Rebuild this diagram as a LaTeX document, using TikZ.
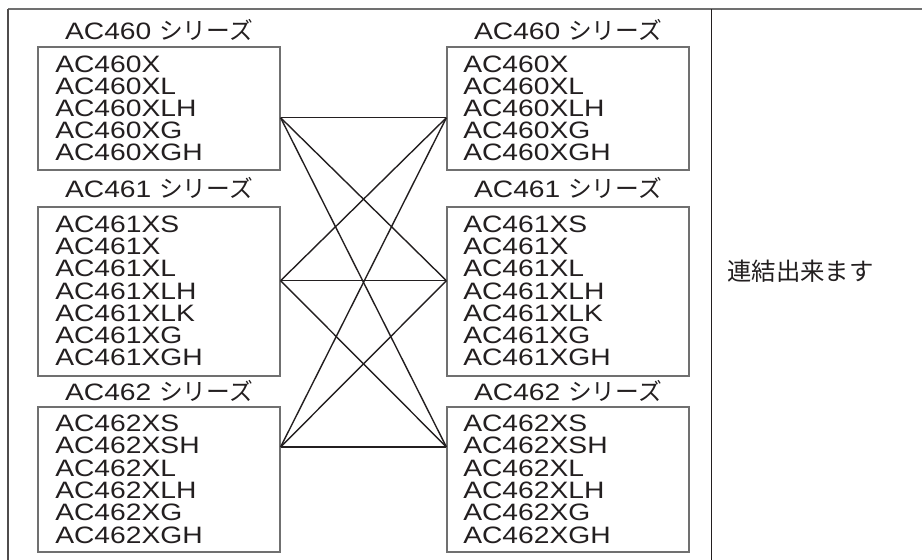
\documentclass[tikz,border=0pt]{standalone}
\usepackage{fontspec}
\setmainfont{Liberation Sans}[FakeStretch=1.19]
\newfontfamily\jpfont{Noto Sans CJK JP}
\usetikzlibrary{fit}
\definecolor{ink}{HTML}{231F20}
\definecolor{frame}{HTML}{707070}

\begin{document}
\begin{tikzpicture}[x=0.75pt,y=-0.75pt,
  box/.style={draw=frame,line width=0.9pt,inner sep=0pt},
  item/.style={anchor=base west,inner sep=0pt,text=ink,font=\fontsize{17.8}{20}\selectfont},
  series/.style={anchor=base,inner sep=0pt,text=ink,font=\fontsize{17.8}{20}\selectfont},
  link/.style={draw=ink,line width=1.05pt}]
\useasboundingbox (0,0) rectangle (922,560);
% table frame
\draw[frame,line width=1.5pt] (8,9.5)--(922,9.5);
\draw[ink!80,line width=1pt] (8,9.5)--(8,560);
\draw[ink,line width=1pt] (711.5,9.5)--(711.5,560);
% boxes
\node[box,fit={(38,47) (280,170)}] (l1) {};
\node[box,fit={(38,207) (280,376)}] (l2) {};
\node[box,fit={(38,407) (280,552)}] (l3) {};
\node[box,fit={(447,47) (689,170)}] (r1) {};
\node[box,fit={(447,207) (689,376)}] (r2) {};
\node[box,fit={(447,407) (689,552)}] (r3) {};
% series titles
\node[series] (tl1) at (159,39.3) {AC460 {\jpfont シリーズ}};
\node[series] (tl2) at (159,197) {AC461 {\jpfont シリーズ}};
\node[series] (tl3) at (159,400) {AC462 {\jpfont シリーズ}};
\node[series] (tr1) at (568,39.3) {AC460 {\jpfont シリーズ}};
\node[series] (tr2) at (568,197) {AC461 {\jpfont シリーズ}};
\node[series] (tr3) at (568,400) {AC462 {\jpfont シリーズ}};
% models
\foreach \m [count=\i] in {AC460X,AC460XL,AC460XLH,AC460XG,AC460XGH}{
  \node[item] (la\i) at (55,{72.7+22*(\i-1)}) {\m};
  \node[item] (ra\i) at (463,{72.7+22*(\i-1)}) {\m};
}
\foreach \m [count=\i] in {AC461XS,AC461X,AC461XL,AC461XLH,AC461XLK,AC461XG,AC461XGH}{
  \node[item] (lb\i) at (55,{232.5+22.2*(\i-1)}) {\m};
  \node[item] (rb\i) at (463,{232.5+22.2*(\i-1)}) {\m};
}
\foreach \m [count=\i] in {AC462XS,AC462XSH,AC462XL,AC462XLH,AC462XG,AC462XGH}{
  \node[item] (lc\i) at (55,{431.5+22.3*(\i-1)}) {\m};
  \node[item] (rc\i) at (463,{431.5+22.3*(\i-1)}) {\m};
}
% connection points
\coordinate (lp1) at (l1.east |- 0,117.7);
\coordinate (lp2) at (l2.east |- 0,280.7);
\coordinate (lp3) at (l3.east |- 0,447);
\coordinate (rp1) at (r1.west |- 0,117.7);
\coordinate (rp2) at (r2.west |- 0,280.7);
\coordinate (rp3) at (r3.west |- 0,447);
\foreach \a in {1,2,3}
  \foreach \b in {1,2,3}
    \draw[link] (lp\a) -- (rp\b);
% result
\node[anchor=west,inner sep=0pt,text=ink,font={\jpfont\fontsize{18.3}{22}\selectfont}] (ok) at (727,271) {連結出来ます};
\end{tikzpicture}
\end{document}
